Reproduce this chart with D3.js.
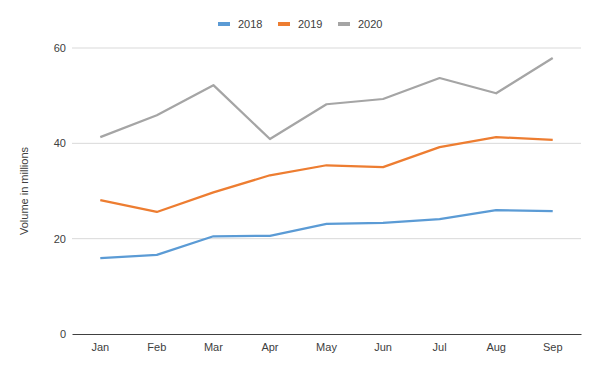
<!DOCTYPE html>
<html>
<head>
<meta charset="utf-8">
<script src="https://cdn.jsdelivr.net/npm/d3@7"></script>
<style>
  body { margin: 0; background: #fff; }
  svg { font-family: "Liberation Sans", Arial, sans-serif; }
</style>
</head>
<body>
<svg id="chart" width="600" height="371"></svg>
<script>
// ====================================================================
// data
var months = ["Jan", "Feb", "Mar", "Apr", "May", "Jun", "Jul", "Aug", "Sep"];
var series_names = ["2018", "2019", "2020"];
var vals_2018 = [15.9, 16.6, 20.5, 20.6, 23.1, 23.3, 24.1, 26.0, 25.8];
var vals_2019 = [28.1, 25.6, 29.7, 33.3, 35.4, 35.0, 39.2, 41.3, 40.7];
var vals_2020 = [41.3, 45.9, 52.2, 40.9, 48.2, 49.3, 53.7, 50.5, 57.9];
var y_ticks = [0, 20, 40, 60];
// ====================================================================

var colors = ["#5B9BD5", "#ED7D31", "#A5A5A5"];
var all_vals = [vals_2018, vals_2019, vals_2020];

var margin = {top: 48, right: 19, bottom: 37, left: 72};
var width = 600 - margin.left - margin.right,
    height = 371 - margin.top - margin.bottom;

var svg = d3.select("#chart");
var g = svg.append("g")
  .attr("transform", "translate(" + margin.left + "," + margin.top + ")");

var x = d3.scaleBand().domain(months).range([0, width]);
var y = d3.scaleLinear().domain([0, 60]).range([height, 0]);

// gridlines
g.append("g")
  .selectAll("line")
  .data(y_ticks.filter(function(d) { return d > 0; }))
  .enter().append("line")
  .attr("x1", 0).attr("x2", width)
  .attr("y1", function(d) { return y(d); })
  .attr("y2", function(d) { return y(d); })
  .attr("stroke", "#d9d9d9")
  .attr("stroke-width", 1);

// y axis
var y_axis = g.append("g")
  .call(d3.axisLeft(y).tickValues(y_ticks).tickSize(0).tickPadding(6));
y_axis.select(".domain").remove();
y_axis.selectAll("text")
  .style("font-size", "11px")
  .style("fill", "#404040");

// x axis
var x_axis = g.append("g")
  .attr("transform", "translate(0," + height + ")")
  .call(d3.axisBottom(x).tickSize(0).tickPadding(9));
x_axis.select(".domain").attr("stroke", "#404040").attr("stroke-width", 1);
x_axis.selectAll("text")
  .style("font-size", "11px")
  .style("fill", "#404040");

// y label
svg.append("text")
  .attr("transform", "translate(28," + (margin.top + height / 2) + ") rotate(-90)")
  .attr("text-anchor", "middle")
  .style("font-size", "11px")
  .style("fill", "#404040")
  .text("Volume in millions");

// lines
var line = d3.line()
  .x(function(d, i) { return x(months[i]) + x.bandwidth() / 2; })
  .y(function(d) { return y(d); });

g.selectAll(".series")
  .data(all_vals)
  .enter().append("path")
  .attr("class", "series")
  .attr("d", line)
  .attr("fill", "none")
  .attr("stroke", function(d, i) { return colors[i]; })
  .attr("stroke-width", 2.25)
  .attr("stroke-linejoin", "round");

// legend
var legend = svg.append("g").attr("transform", "translate(218,24)");
var item = legend.selectAll("g")
  .data(series_names)
  .enter().append("g")
  .attr("transform", function(d, i) { return "translate(" + (i * 60) + ",0)"; });
item.append("rect")
  .attr("x", 0).attr("y", -2)
  .attr("width", 12).attr("height", 4)
  .attr("fill", function(d, i) { return colors[i]; });
item.append("text")
  .attr("x", 20).attr("y", 4)
  .style("font-size", "11px")
  .style("fill", "#404040")
  .text(function(d) { return d; });
</script>
</body>
</html>
